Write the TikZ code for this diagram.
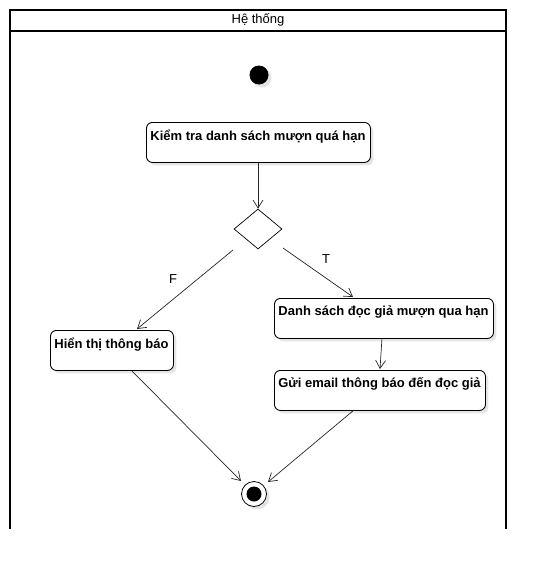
\documentclass[tikz,border=0pt]{standalone}
\usepackage{fontspec}
\setmainfont{Liberation Sans}
\usetikzlibrary{arrows.meta,shapes.geometric,shadows}
\begin{document}
\begin{tikzpicture}[x=1pt,y=-1pt,
  actbox/.style={draw=black,line width=0.9pt,rounded corners=6pt,fill=white,
    drop shadow={shadow xshift=3pt,shadow yshift=-3pt,fill=black!10,opacity=1},
    inner sep=0pt,anchor=north west},
  boxtext/.style={font=\bfseries\fontsize{13}{15}\selectfont,anchor=north,inner sep=0pt},
  flow/.style={draw=black!85,line width=0.7pt,-{Straight Barb[length=8pt,width=10pt]}},
  lbl/.style={font=\fontsize{13}{15}\selectfont,inner sep=0pt}
]
\useasboundingbox (0,0) rectangle (546,570);
% frame
\draw[line width=1.6pt] (10,529) -- (10,10) -- (506,10) -- (506,529);
\draw[line width=1.6pt] (10,31) -- (506,31);
\node[lbl] (title) at (258,20) {Hệ thống};
% start
\node[circle,fill=black,minimum size=19pt,inner sep=0pt,
  drop shadow={shadow xshift=3pt,shadow yshift=-3pt,fill=black!10,opacity=1}] (start) at (259,75) {};
% boxes
\node[actbox,minimum width=224pt,minimum height=40pt] (b1) at (146,122) {};
\node[boxtext] (t1) at (258,129.5) {Kiểm tra danh sách mượn quá hạn};
\node[diamond,draw=black,line width=0.7pt,fill=white,minimum width=48pt,minimum height=40pt,inner sep=0pt,aspect=1.2] (dec) at (258,229) {};
\node[actbox,minimum width=123pt,minimum height=40pt] (b2) at (50,330) {};
\node[boxtext] (t2) at (111.5,337.5) {Hiển thị thông báo};
\node[actbox,minimum width=219pt,minimum height=40pt] (b3) at (274,298) {};
\node[boxtext] (t3) at (383.5,305.5) {Danh sách đọc giả mượn qua hạn};
\node[actbox,minimum width=211pt,minimum height=40pt] (b4) at (274,370) {};
\node[boxtext] (t4) at (379.5,377.5) {Gửi email thông báo đến đọc giả};
% end
\node[circle,draw=black,line width=0.8pt,fill=white,minimum size=25pt,inner sep=0pt,
  drop shadow={shadow xshift=3pt,shadow yshift=-3pt,fill=black!10,opacity=1}] (end) at (254,494) {};
\node[circle,fill=black,minimum size=15pt,inner sep=0pt] (endin) at (254,494) {};
% coordinates for connector ends
\coordinate (dL) at (233,250);
\coordinate (dR) at (283,248);
\coordinate (b2in) at (137,329);
\coordinate (b3in) at (353,297);
\coordinate (b3out) at (382,338);
\coordinate (b4in) at (380,369);
\coordinate (b2out) at (132,371);
\coordinate (b4out) at (354,410);
\coordinate (e1) at (241,481);
\coordinate (e2) at (268,482);
\draw[flow] (b1.south -| dec.north) -- (dec.north);
\draw[flow] (dL) -- (b2in);
\draw[flow] (dR) -- (b3in);
\draw[flow] (b3out) -- (b4in);
\draw[flow] (b2out) -- (e1);
\draw[flow] (b4out) -- (e2);
\node[lbl] (lF) at (173,279) {F};
\node[lbl] (lT) at (326,259) {T};
\end{tikzpicture}
\end{document}
